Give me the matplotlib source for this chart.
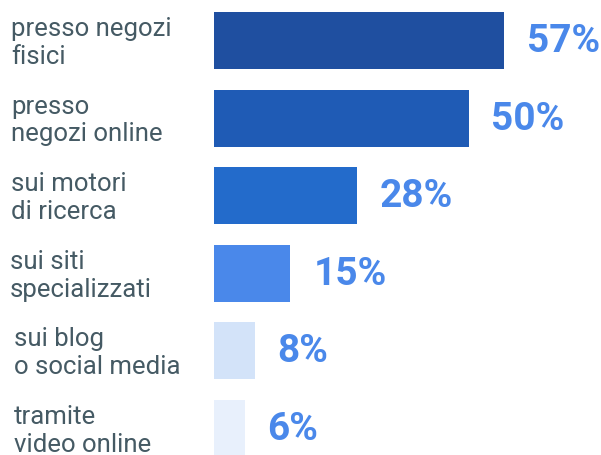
import matplotlib
matplotlib.use("Agg")
import matplotlib.pyplot as plt
from matplotlib.transforms import blended_transform_factory

categories = ["presso negozi\nfisici", "presso\nnegozi online", "sui motori\ndi ricerca",
              "sui siti\nspecializzati", "sui blog\no social media", "tramite\nvideo online"]
values = [57, 50, 28, 15, 8, 6]
labels = ["57%", "50%", "28%", "15%", "8%", "6%"]
colors = ["#1F4FA0", "#1F5BB5", "#236BCB", "#4A88EA", "#D3E3F9", "#E8F0FC"]
label_x = [11, 11, 11, 10, 14, 14]

W, H = 601, 456
fig = plt.figure(figsize=(W / 100, H / 100), dpi=100)
ax = fig.add_axes([214 / W, 0, (W - 214) / W, 1])
ypos = list(range(len(values)))
ax.barh(ypos, values, height=0.735, color=colors)
ax.set_xlim(0, (W - 214) / 5.09)
ax.set_ylim(5.345, -0.535)
ax.axis("off")

tr = blended_transform_factory(fig.transFigure, ax.transData)
for i, (cat, v, lab) in enumerate(zip(categories, values, labels)):
    fig.text(label_x[i] / W, i + 0.02, cat, transform=tr, ha="left", va="center",
             fontsize=18.5, family="Roboto", color="#455A64", linespacing=1.2)
    ax.annotate(lab, xy=(v, i), xytext=(16.5, 0), textcoords="offset points",
                ha="left", va="center", fontsize=28, fontweight="bold",
                family="Roboto", color="#4A88EA")

fig.savefig("out.png", dpi=100)
